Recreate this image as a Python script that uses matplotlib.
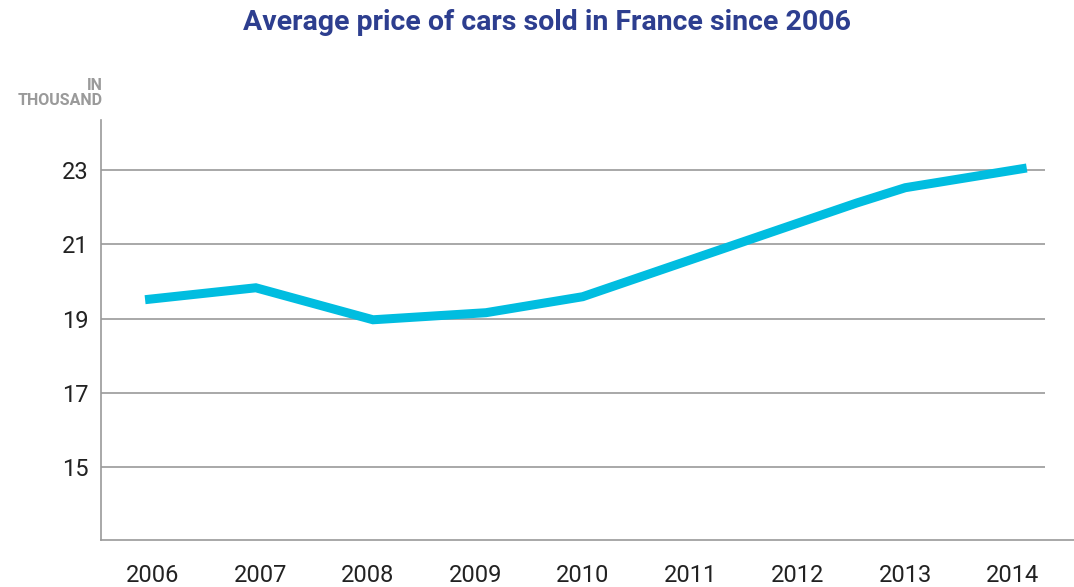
import matplotlib
matplotlib.use("Agg")
import matplotlib.pyplot as plt
from matplotlib.lines import Line2D

# Data (fractional years where the line bends between ticks)
years = [2005.93, 2006.96, 2008.05, 2009.10, 2010.00, 2012.55, 2013.00, 2014.13]
price = [19.51, 19.83, 18.97, 19.16, 19.59, 22.11, 22.52, 23.05]

tick_years = [2006, 2007, 2008, 2009, 2010, 2011, 2012, 2013, 2014]
y_ticks = [15, 17, 19, 21, 23]

LINE_COLOR = "#00bde0"
TITLE_COLOR = "#2d3e8f"
GRID_COLOR = "#9a9a9a"
TEXT_COLOR = "#222222"

plt.rcParams["font.family"] = ["Roboto", "DejaVu Sans"]

W, H = 1074, 587
fig = plt.figure(figsize=(W / 100, H / 100), dpi=100)
ax = fig.add_axes([101 / W, 47 / H, (1045 - 101) / W, 420 / H])

ax.plot(years, price, color=LINE_COLOR, linewidth=6.5, solid_capstyle="butt",
        solid_joinstyle="miter", zorder=3)

ax.set_xlim(2005.52, 2014.30)
ax.set_ylim(13.05, 24.34)
ax.set_xticks(tick_years)
ax.set_yticks(y_ticks)
ax.tick_params(axis="both", length=0, labelsize=17, colors=TEXT_COLOR)
ax.tick_params(axis="y", pad=9)
ax.tick_params(axis="x", pad=17)

ax.grid(axis="y", color=GRID_COLOR, linewidth=1.2)
ax.set_axisbelow(True)
for side in ["top", "right", "bottom"]:
    ax.spines[side].set_visible(False)
ax.spines["left"].set_color(GRID_COLOR)
ax.spines["left"].set_linewidth(1.2)

# bottom axis line runs on to the right edge of the picture
fig.add_artist(Line2D([101 / W, 1.0], [47 / H, 47 / H], color=GRID_COLOR,
                      linewidth=1.2, transform=fig.transFigure))

fig.text(547 / W, 1 - 22 / H, "Average price of cars sold in France since 2006",
         ha="center", va="center", fontsize=20.5, fontweight="bold", color=TITLE_COLOR)
fig.text(103 / W, 1 - 93 / H, "IN\nTHOUSAND", ha="right", va="center",
         fontsize=11.5, fontweight="bold", color="#9a9a9a", linespacing=1.05)

fig.savefig("out.png", dpi=100)
